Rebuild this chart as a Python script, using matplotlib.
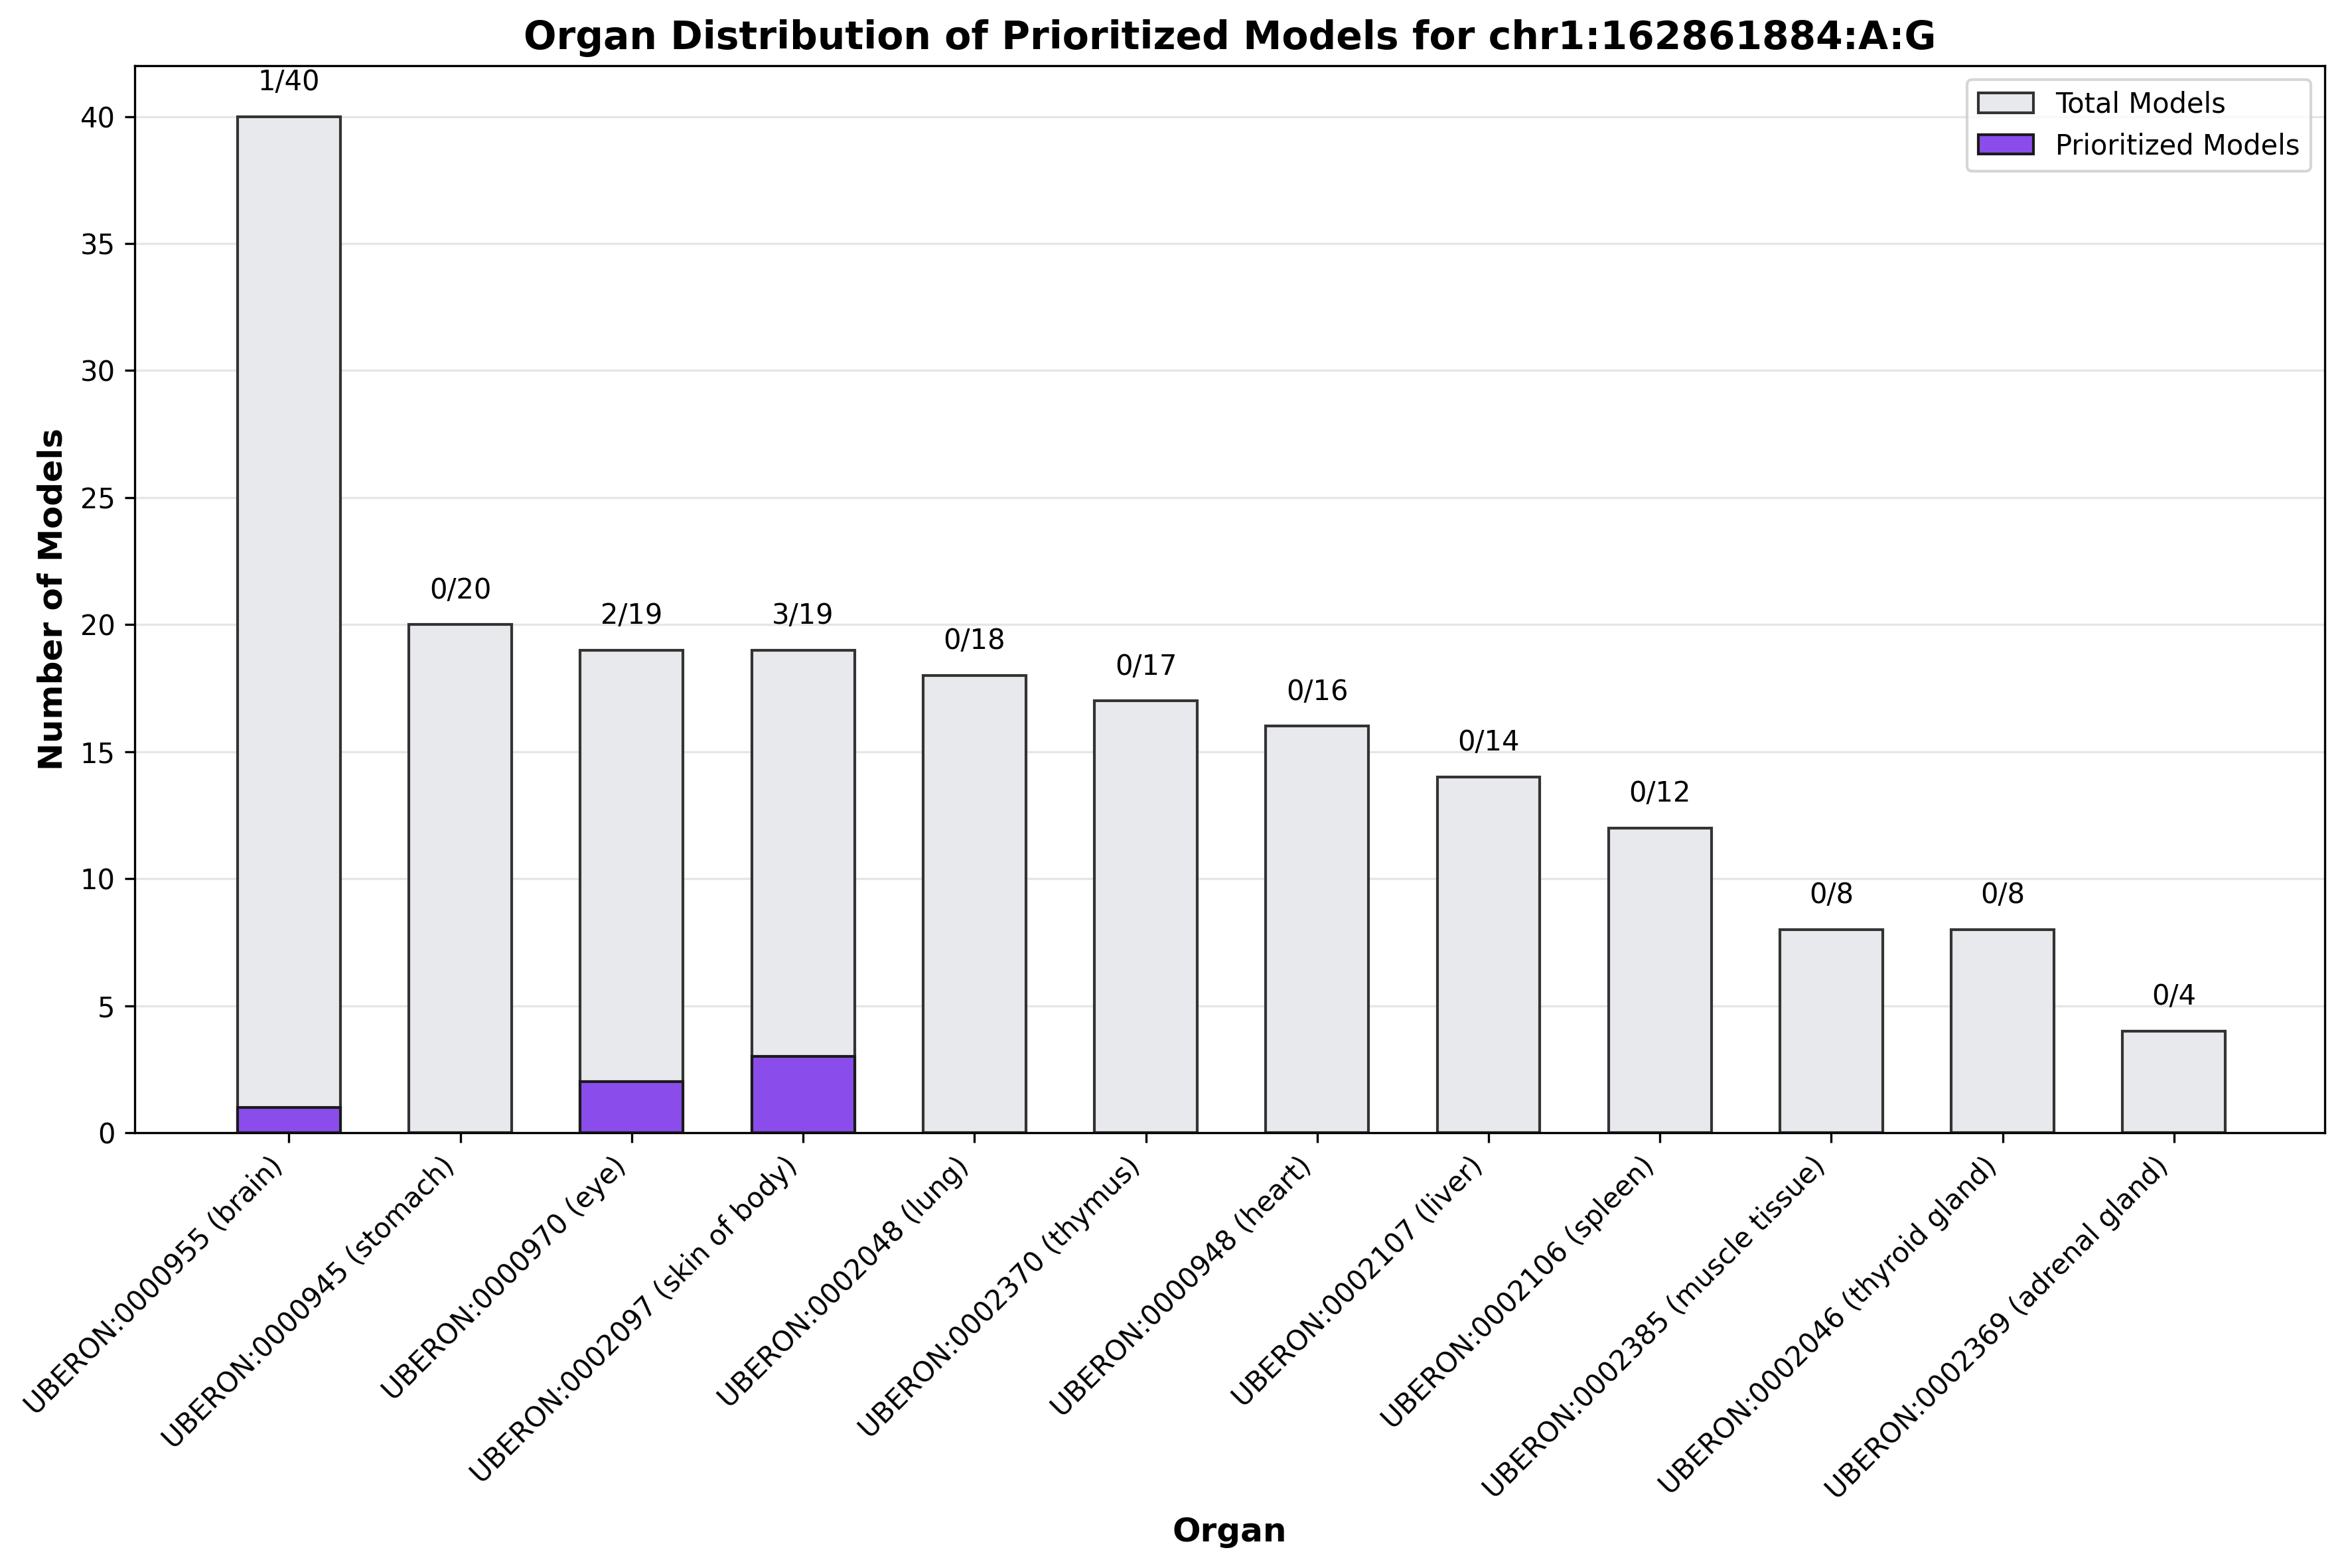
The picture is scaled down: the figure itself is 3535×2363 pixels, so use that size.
import matplotlib
matplotlib.use("Agg")
import matplotlib.pyplot as plt
import numpy as np

organs = [
    "UBERON:0000955 (brain)",
    "UBERON:0000945 (stomach)",
    "UBERON:0000970 (eye)",
    "UBERON:0002097 (skin of body)",
    "UBERON:0002048 (lung)",
    "UBERON:0002370 (thymus)",
    "UBERON:0000948 (heart)",
    "UBERON:0002107 (liver)",
    "UBERON:0002106 (spleen)",
    "UBERON:0002385 (muscle tissue)",
    "UBERON:0002046 (thyroid gland)",
    "UBERON:0002369 (adrenal gland)",
]
total_models = [40, 20, 19, 19, 18, 17, 16, 14, 12, 8, 8, 4]
prioritized_models = [1, 0, 2, 3, 0, 0, 0, 0, 0, 0, 0, 0]

fig = plt.figure(figsize=(3535 / 300, 2363 / 300), dpi=300)
ax = fig.add_axes([0.0574, 0.2776, 0.9336, 0.6805])

x = np.arange(len(organs))
w = 0.6
ax.bar(x, total_models, width=w, color="#e8e9ec", edgecolor="#333333",
       linewidth=1.0, label="Total Models", zorder=2)
ax.bar(x, prioritized_models, width=w, color="#8a4deb", edgecolor="#1a1a1a",
       linewidth=1.0, label="Prioritized Models", zorder=3)

for xi, t, p in zip(x, total_models, prioritized_models):
    ax.text(xi, t + 0.8, f"{p}/{t}", ha="center", va="bottom", fontsize=10)

ax.set_xticks(x)
ax.set_xticklabels(organs, rotation=45, ha="right", fontsize=10)
ax.set_ylim(0, 42)
ax.set_yticks(np.arange(0, 41, 5))
ax.tick_params(axis="y", labelsize=10)
ax.set_xlim(-0.9, 11.88)
ax.yaxis.grid(True, color="#e6e6e6", linewidth=0.8, zorder=0)
ax.set_axisbelow(True)

ax.set_title("Organ Distribution of Prioritized Models for chr1:162861884:A:G",
             fontsize=14, fontweight="bold")
ax.set_xlabel("Organ", fontsize=12, fontweight="bold")
ax.set_ylabel("Number of Models", fontsize=12, fontweight="bold")
ax.legend(loc="upper right", fontsize=10)

fig.savefig("out.png", dpi=300)
